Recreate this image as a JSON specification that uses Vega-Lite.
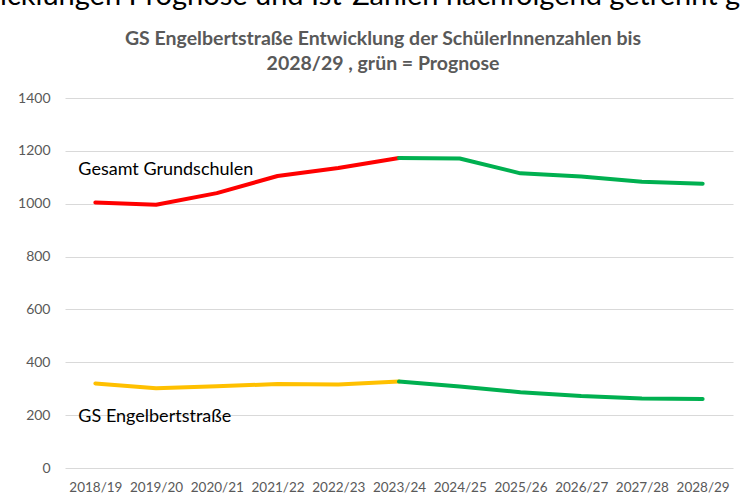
{
  "$schema": "https://vega.github.io/schema/vega-lite/v6.json",
  "width": 668,
  "height": 370,
  "autosize": {"type": "none"},
  "padding": {"left": 65, "top": 98, "right": 9, "bottom": 33},
  "background": "white",
  "config": {
    "font": "Lato",
    "view": {"stroke": null}
  },
  "title": {
    "text": "icklungen Prognose und Ist-Zahlen nachfolgend getrennt g",
    "anchor": "start",
    "frame": "group",
    "dx": -65,
    "dy": 17,
    "offset": 12,
    "baseline": "alphabetic",
    "fontSize": 29,
    "fontWeight": "normal",
    "color": "#000000",
    "font": "Lato"
  },
  "datasets": {
    "series": [
      {"segment": "Gesamt Ist", "year": "2018/19", "value": 1005},
      {"segment": "Gesamt Ist", "year": "2019/20", "value": 996},
      {"segment": "Gesamt Ist", "year": "2020/21", "value": 1040},
      {"segment": "Gesamt Ist", "year": "2021/22", "value": 1105},
      {"segment": "Gesamt Ist", "year": "2022/23", "value": 1135},
      {"segment": "Gesamt Ist", "year": "2023/24", "value": 1173},
      {"segment": "Gesamt Prognose", "year": "2023/24", "value": 1173},
      {"segment": "Gesamt Prognose", "year": "2024/25", "value": 1171},
      {"segment": "Gesamt Prognose", "year": "2025/26", "value": 1115},
      {"segment": "Gesamt Prognose", "year": "2026/27", "value": 1103},
      {"segment": "Gesamt Prognose", "year": "2027/28", "value": 1083},
      {"segment": "Gesamt Prognose", "year": "2028/29", "value": 1076},
      {"segment": "GS Ist", "year": "2018/19", "value": 320},
      {"segment": "GS Ist", "year": "2019/20", "value": 302},
      {"segment": "GS Ist", "year": "2020/21", "value": 309},
      {"segment": "GS Ist", "year": "2021/22", "value": 318},
      {"segment": "GS Ist", "year": "2022/23", "value": 316},
      {"segment": "GS Ist", "year": "2023/24", "value": 327},
      {"segment": "GS Prognose", "year": "2023/24", "value": 327},
      {"segment": "GS Prognose", "year": "2024/25", "value": 308},
      {"segment": "GS Prognose", "year": "2025/26", "value": 287},
      {"segment": "GS Prognose", "year": "2026/27", "value": 272},
      {"segment": "GS Prognose", "year": "2027/28", "value": 263},
      {"segment": "GS Prognose", "year": "2028/29", "value": 261}
    ],
    "labels": [
      {"label": "Gesamt Grundschulen", "year": "2018/19", "value": 1108},
      {"label": "GS Engelbertstraße", "year": "2018/19", "value": 175}
    ],
    "charttitle": [
      {"label": "GS Engelbertstraße Entwicklung der SchülerInnenzahlen bis", "year": "2023/24", "value": 1600},
      {"label": "2028/29 , grün = Prognose", "year": "2023/24", "value": 1506}
    ]
  },
  "encoding": {
    "x": {
      "field": "year",
      "type": "ordinal",
      "scale": {"domain": ["2018/19","2019/20","2020/21","2021/22","2022/23","2023/24","2024/25","2025/26","2026/27","2027/28","2028/29"], "paddingInner": 0, "paddingOuter": 0},
      "axis": {"title": null, "labelAngle": 0, "domain": false, "ticks": false, "labelPadding": 12, "labelFontSize": 13.5, "labelColor": "#595959", "labelFont": "Lato"}
    },
    "y": {
      "field": "value",
      "type": "quantitative",
      "scale": {"domain": [0, 1400], "nice": false},
      "axis": {"title": null, "values": [0,200,400,600,800,1000,1200,1400], "format": "d", "domain": false, "ticks": false, "labelPadding": 15, "labelFontSize": 14, "labelColor": "#595959", "gridColor": "#d9d9d9", "gridWidth": 1, "labelFont": "Lato"}
    }
  },
  "layer": [
    {
      "data": {"name": "series"},
      "mark": {"type": "line", "strokeWidth": 4, "strokeCap": "round", "strokeJoin": "round"},
      "encoding": {
        "color": {
          "field": "segment",
          "type": "nominal",
          "scale": {"domain": ["Gesamt Ist", "Gesamt Prognose", "GS Ist", "GS Prognose"], "range": ["#ff0000", "#00b050", "#ffc000", "#00b050"]},
          "legend": null
        }
      }
    },
    {
      "data": {"name": "labels"},
      "mark": {"type": "text", "align": "left", "baseline": "alphabetic", "dx": -17, "fontSize": 18, "color": "#000000", "font": "Lato"},
      "encoding": {"text": {"field": "label"}}
    },
    {
      "data": {"name": "charttitle"},
      "mark": {"type": "text", "align": "center", "baseline": "alphabetic", "dx": -16, "fontSize": 19.5, "fontWeight": "bold", "color": "#595959", "font": "Lato"},
      "encoding": {"text": {"field": "label"}}
    }
  ]
}
